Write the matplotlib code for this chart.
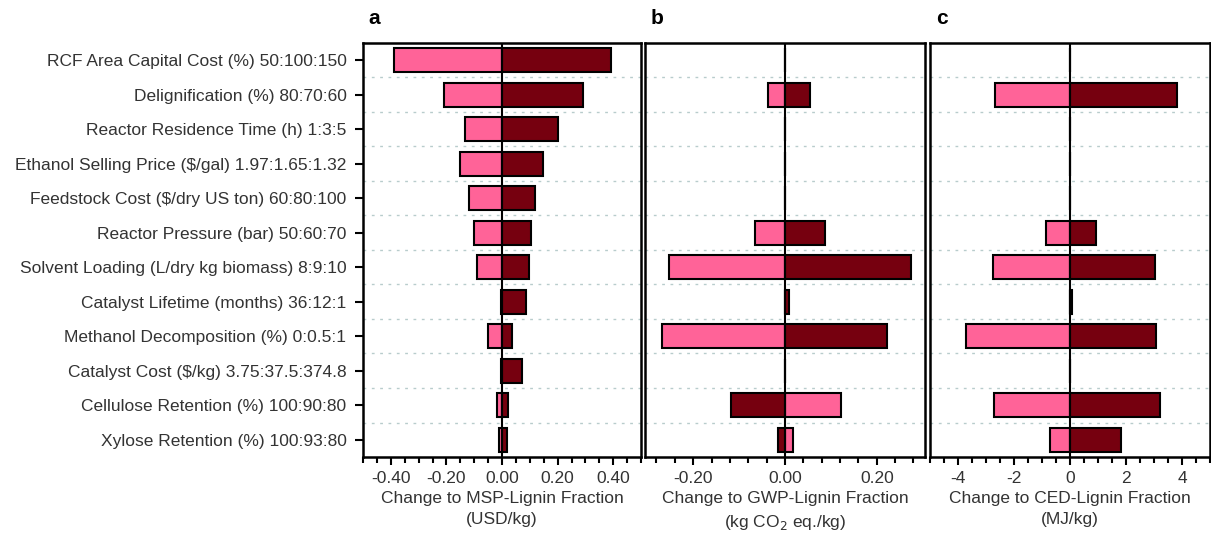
import numpy as np
import matplotlib.pyplot as plt
from matplotlib.ticker import MultipleLocator

plt.rcParams['font.family'] = ['Liberation Sans', 'DejaVu Sans']

# parameters (low:base:high)
labels = ["RCF Area Capital Cost (%) 50:100:150",
          "Delignification (%) 80:70:60",
          "Reactor Residence Time (h) 1:3:5",
          "Ethanol Selling Price ($/gal) 1.97:1.65:1.32",
          "Feedstock Cost ($/dry US ton) 60:80:100",
          "Reactor Pressure (bar) 50:60:70",
          "Solvent Loading (L/dry kg biomass) 8:9:10",
          "Catalyst Lifetime (months) 36:12:1",
          "Methanol Decomposition (%) 0:0.5:1",
          "Catalyst Cost ($/kg) 3.75:37.5:374.8",
          "Cellulose Retention (%) 100:90:80",
          "Xylose Retention (%) 100:93:80"]

# a: MSP (USD/kg)
msp_low = [-0.39, -0.21, -0.135, -0.15, -0.12, -0.10, -0.09, -0.005, -0.05, -0.005, -0.02, -0.012]
msp_high = [0.39, 0.29, 0.20, 0.148, 0.12, 0.104, 0.097, 0.087, 0.036, 0.07, 0.023, 0.016]
# b: GWP (kg CO2 eq./kg)
gwp_low = [0, -0.036, 0, 0, 0, -0.065, -0.253, 0, -0.268, 0, 0.121, 0.017]
gwp_high = [0, 0.054, 0, 0, 0, 0.087, 0.274, 0.009, 0.223, 0, -0.118, -0.015]
# c: CED (MJ/kg)
ced_low = [0, -2.67, 0, 0, 0, -0.87, -2.76, 0, -3.73, 0, -2.73, -0.72]
ced_high = [0, 3.82, 0, 0, 0, 0.92, 3.03, 0.08, 3.08, 0, 3.23, 1.82]

pink = '#ff6398'
dark = '#76000f'
txt = '#333333'

fig = plt.figure(figsize=(12.11, 5.4), dpi=100)
bot, h = 0.1537, 0.7667
axa = fig.add_axes([0.2998, bot, 0.2296, h])
axb = fig.add_axes([0.5326, bot, 0.2312, h])
axc = fig.add_axes([0.7680, bot, 0.2312, h])

panels = [
    (axa, msp_low, msp_high, 0.5, 0.2, 0.05, '{:.2f}',
     'Change to MSP-Lignin Fraction\n(USD/kg)', 'a'),
    (axb, gwp_low, gwp_high, 0.305, 0.2, 0.04, '{:.2f}',
     'Change to GWP-Lignin Fraction\n(kg CO$_2$ eq./kg)', 'b'),
    (axc, ced_low, ced_high, 5, 2, 0.5, '{:.0f}',
     'Change to CED-Lignin Fraction\n(MJ/kg)', 'c'),
]

y = np.arange(len(labels))
for ax, lo, hi, lim, maj, mnr, fmt, xlab, letter in panels:
    ax.barh(y, lo, height=0.7, color=pink, edgecolor='black', linewidth=1.5, zorder=3)
    ax.barh(y, hi, height=0.7, color=dark, edgecolor='black', linewidth=1.5, zorder=3)
    ax.axvline(0, color='black', lw=1.5, zorder=4)
    ax.xaxis.set_minor_locator(MultipleLocator(mnr))
    n = int(lim // maj)
    ticks = np.round(np.arange(-n, n + 1) * maj, 6)
    ax.set_xticks(ticks)
    ax.set_xticklabels([fmt.format(t + 0.0) for t in ticks], color=txt, fontsize=12.5)
    ax.set_xlim(-lim, lim)
    ax.set_ylim(len(labels) - 0.5, -0.5)
    ax.tick_params(axis='x', which='major', length=6, width=1.5, direction='out', pad=4)
    ax.tick_params(axis='x', which='minor', length=4, width=1.5, direction='out')
    ax.set_yticks(y, minor=False)
    ax.set_yticks(np.arange(0.5, len(labels) - 1, 1.0), minor=True)
    ax.grid(axis='y', which='minor', linestyle=(0, (2, 4)), color='#b8cccc', lw=1.0, zorder=1)
    ax.tick_params(axis='y', which='minor', length=0)
    for s in ax.spines.values():
        s.set_linewidth(1.8)
    ax.set_xlabel(xlab, color=txt, fontsize=12.5, linespacing=1.45, labelpad=4)
    ax.text(0.02, 1.035, letter, transform=ax.transAxes, fontsize=15,
            fontweight='bold', va='bottom', ha='left')
    if ax is axa:
        ax.set_yticklabels(labels, color=txt, fontsize=12.5)
        ax.tick_params(axis='y', which='major', length=6, width=1.5, pad=6)
    else:
        ax.set_yticklabels([])
        ax.tick_params(axis='y', which='major', length=0)

fig.savefig('out.png', dpi=100)
